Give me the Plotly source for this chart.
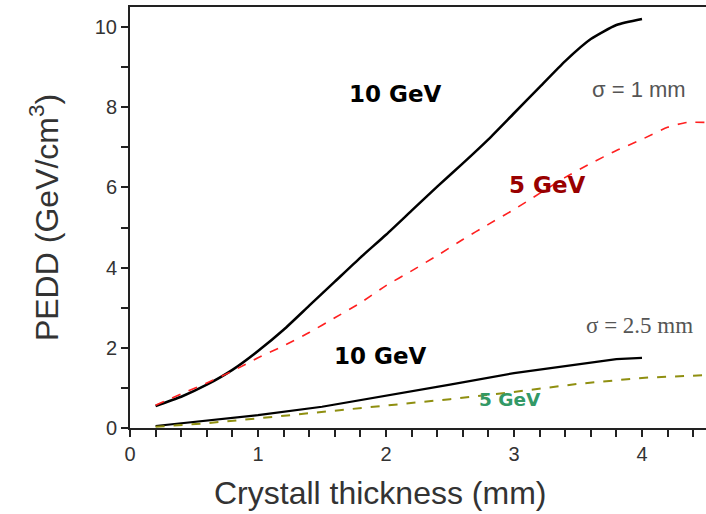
import plotly.graph_objects as go

# Peak energy deposition density vs crystal thickness
# sigma = 1 mm beams
x_10gev_s1 = [0.2, 0.4, 0.6, 0.8, 1.0, 1.2, 1.4, 1.6, 1.8, 2.0, 2.2, 2.4, 2.6, 2.8,
              3.0, 3.2, 3.4, 3.6, 3.8, 4.0]
y_10gev_s1 = [0.55, 0.78, 1.08, 1.45, 1.92, 2.45, 3.05, 3.65, 4.25, 4.82, 5.42, 6.02,
              6.6, 7.2, 7.85, 8.5, 9.15, 9.7, 10.05, 10.2]

x_5gev_s1 = [0.2, 0.4, 0.6, 0.8, 1.0, 1.2, 1.4, 1.6, 1.8, 2.0, 2.2, 2.4, 2.6, 2.8,
             3.0, 3.2, 3.4, 3.6, 3.8, 4.0, 4.2, 4.35, 4.5]
y_5gev_s1 = [0.57, 0.85, 1.12, 1.42, 1.75, 2.05, 2.38, 2.75, 3.12, 3.55, 3.92, 4.3,
             4.7, 5.08, 5.45, 5.85, 6.25, 6.6, 6.92, 7.2, 7.5, 7.62, 7.62]

# sigma = 2.5 mm beams
x_10gev_s25 = [0.2, 0.6, 1.0, 1.5, 2.0, 2.5, 3.0, 3.5, 3.8, 4.0]
y_10gev_s25 = [0.05, 0.18, 0.32, 0.53, 0.8, 1.08, 1.37, 1.6, 1.72, 1.75]

x_5gev_s25 = [0.2, 0.6, 1.0, 1.5, 2.0, 2.5, 3.0, 3.5, 4.0, 4.5]
y_5gev_s25 = [0.03, 0.12, 0.24, 0.4, 0.56, 0.72, 0.9, 1.1, 1.25, 1.32]

fig = go.Figure()
fig.add_trace(go.Scatter(x=x_10gev_s1, y=y_10gev_s1, mode="lines",
                         line=dict(color="#000000", width=2.5, shape="spline", smoothing=0.6)))
fig.add_trace(go.Scatter(x=x_5gev_s1, y=y_5gev_s1, mode="lines",
                         line=dict(color="#ff2020", width=1.6, dash="dash", shape="spline", smoothing=0.6)))
fig.add_trace(go.Scatter(x=x_10gev_s25, y=y_10gev_s25, mode="lines",
                         line=dict(color="#000000", width=2.2)))
fig.add_trace(go.Scatter(x=x_5gev_s25, y=y_5gev_s25, mode="lines",
                         line=dict(color="#8f8f10", width=2, dash="dash")))

bold = "DejaVu Sans"
sans = "Liberation Sans"
annotations = [
    dict(x=2.07, y=8.33, text="<b>10 GeV</b>", font=dict(family=bold, size=23, color="#000000")),
    dict(x=3.98, y=8.45, text="<span style=\"font-family:'Liberation Sans',Arial,sans-serif\">σ = 1 mm</span>",
         font=dict(family=sans, size=22, color="#555555")),
    dict(x=3.26, y=6.05, text="<b>5 GeV</b>", font=dict(family=bold, size=23, color="#990000")),
    dict(x=3.98, y=2.55, text="σ = 2.5 mm", font=dict(family="Liberation Serif", size=23, color="#555555")),
    dict(x=1.95, y=1.8, text="<b>10 GeV</b>", font=dict(family=bold, size=23, color="#000000")),
    dict(x=2.97, y=0.72, text="<b>5 GeV</b>", font=dict(family=bold, size=18.5, color="#339966")),
]
for a in annotations:
    a.update(xref="x", yref="y", showarrow=False)

# x-axis title placed as an annotation, slightly left of the plot centre
annotations.append(dict(x=1.95, xref="x", y=0, yref="paper", yanchor="middle", yshift=-65,
                        showarrow=False, text="Crystall thickness (mm)",
                        font=dict(family=sans, size=32, color="#333333")))

fig.update_layout(
    width=706, height=514,
    margin=dict(l=130, r=0, t=7, b=86),
    plot_bgcolor="white", paper_bgcolor="white",
    showlegend=False,
    annotations=annotations,
    font=dict(family=sans, color="#333333"),
)
fig.update_xaxes(
    range=[0, 4.5], tickvals=[0, 1, 2, 3, 4], ticks="outside", ticklen=7, tickwidth=1.5,
    tickcolor="#222222", showline=True, linewidth=2, linecolor="#222222", mirror=True,
    showgrid=False, zeroline=False, tickfont=dict(family=sans, size=20, color="#333333"),
    minor=dict(dtick=0.2, tick0=0, ticks="outside", ticklen=7, tickwidth=1.5, tickcolor="#222222"),
)
fig.update_yaxes(
    range=[0, 10.5], tickvals=[0, 2, 4, 6, 8, 10], ticks="outside", ticklen=7, tickwidth=1.5,
    tickcolor="#222222", showline=True, linewidth=2, linecolor="#222222",
    showgrid=False, zeroline=False, tickfont=dict(family=sans, size=20, color="#333333"),
    minor=dict(dtick=1, tick0=0, ticks="outside", ticklen=7, tickwidth=1.5, tickcolor="#222222"),
    title=dict(text="PEDD (GeV/cm<sup>3</sup>)", font=dict(family=sans, size=32, color="#333333"), standoff=27),
)

fig.write_html("out.html")
